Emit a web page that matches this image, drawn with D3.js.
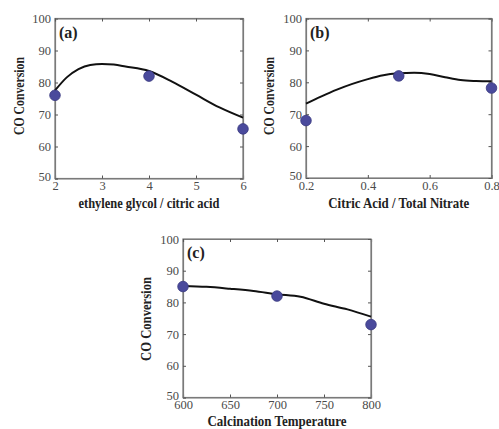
<!DOCTYPE html>
<html><head><meta charset="utf-8">
<script src="https://cdn.jsdelivr.net/npm/d3@7"></script>
<style>body{margin:0;background:#fff}svg{display:block}</style>
</head><body>
<svg id="c" width="499" height="429"></svg>
<script>
// Panel (a)
const aPointsX = [2, 4, 6];
const aPointsY = [76, 82, 65.5];
const aCurveX = [2, 2.25, 2.5, 2.75, 3, 3.25, 3.5, 4, 4.5, 5, 5.5, 6];
const aCurveY = [77.5, 81.6, 84.2, 85.5, 85.8, 85.6, 85.0, 83.6, 80.2, 76.2, 72.2, 69.0];
const aXTicks = [2, 3, 4, 5, 6];
// Panel (b)
const bPointsX = [0.2, 0.5, 0.8];
const bPointsY = [68, 82, 78.2];
const bCurveX = [0.2, 0.25, 0.3, 0.35, 0.4, 0.45, 0.5, 0.55, 0.6, 0.65, 0.7, 0.75, 0.8];
const bCurveY = [73.3, 75.6, 77.7, 79.5, 81.0, 82.2, 82.8, 83.0, 82.6, 81.6, 80.7, 80.4, 80.3];
const bXTicks = [0.2, 0.4, 0.6, 0.8];
// Panel (c)
const cPointsX = [600, 700, 800];
const cPointsY = [85, 82, 73];
const cCurveX = [600, 625, 650, 675, 700, 725, 750, 775, 800];
const cCurveY = [85.2, 84.9, 84.3, 83.6, 82.6, 81.8, 79.6, 77.8, 75.5];
const cXTicks = [600, 650, 700, 750, 800];
const yTicks = [50, 60, 70, 80, 90, 100];

const svg = d3.select("#c");
const serif = "'Liberation Serif','Times New Roman','DejaVu Serif',serif";

function panel(o){
  const x = d3.scaleLinear().domain(o.xd).range([o.l, o.r]);
  const y = d3.scaleLinear().domain([50,100]).range([o.b, o.t]);
  const g = svg.append("g");
  g.append("rect").attr("x", o.l).attr("y", o.t).attr("width", o.r-o.l).attr("height", o.b-o.t)
    .attr("fill","none").attr("stroke","#7a7a7a").attr("stroke-width",1.2);
  g.append("g").attr("transform",`translate(0,${o.b})`)
    .call(d3.axisBottom(x).tickValues(o.xt).tickSize(-3).tickPadding(3).tickFormat(o.fmt));
  g.append("g").attr("transform",`translate(${o.l},0)`)
    .call(d3.axisLeft(y).tickValues(yTicks).tickSize(-3).tickPadding(4));
  g.append("g").attr("transform",`translate(0,${o.t})`)
    .call(d3.axisTop(x).tickValues(o.xt).tickSize(-3).tickFormat(""));
  g.append("g").attr("transform",`translate(${o.r},0)`)
    .call(d3.axisRight(y).tickValues(yTicks).tickSize(-3).tickFormat(""));
  g.selectAll(".domain").attr("stroke","#7a7a7a").attr("stroke-width",1.2);
  g.selectAll(".tick line").attr("stroke","#555");
  g.selectAll(".tick text").attr("font-family",serif).attr("font-size",12.5).attr("fill","#4a4a4a");
  // nudge the lowest y label up a little, as in the reference
  g.selectAll(".tick text").filter(d=>d===50).attr("dy","0.15em");
  const pts = o.cx.map((v,i)=>[v,o.cy[i]]);
  g.append("path").datum(pts)
    .attr("d", d3.line().x(d=>x(d[0])).y(d=>y(d[1])).curve(d3.curveMonotoneX))
    .attr("fill","none").attr("stroke","#111").attr("stroke-width",2);
  g.selectAll("circle.p").data(o.px.map((v,i)=>[v,o.py[i]])).join("circle")
    .attr("cx",d=>x(d[0])).attr("cy",d=>y(d[1])).attr("r",5.3)
    .attr("fill","#4a4a9c").attr("stroke","#3a3a80").attr("stroke-width",0.8);
  g.append("text").attr("x",o.l+4).attr("y",o.t+19).text(o.tag)
    .attr("font-family",serif).attr("font-weight","bold").attr("font-size",16).attr("fill","#222");
  g.append("text").attr("x",(o.l+o.r)/2).attr("y",o.xly).attr("text-anchor","middle")
    .text(o.xl).attr("font-family",serif).attr("font-weight","bold").attr("font-size",14)
    .attr("fill","#222").attr("textLength",o.xlw).attr("lengthAdjust","spacingAndGlyphs");
  g.append("text").attr("transform",`translate(${o.ylx},${o.yly}) rotate(-90)`)
    .attr("text-anchor","middle").text("CO Conversion")
    .attr("font-family",serif).attr("font-weight","bold").attr("font-size",14)
    .attr("fill","#222").attr("textLength",o.ylw).attr("lengthAdjust","spacingAndGlyphs");
}

panel({xd:[2,6], l:55, r:243, t:18.5, b:178.5, xt:aXTicks, fmt:d3.format("d"),
  px:aPointsX, py:aPointsY, cx:aCurveX, cy:aCurveY, tag:"(a)",
  xl:"ethylene glycol / citric acid", xly:208, xlw:141, ylx:24, yly:96, ylw:78});
panel({xd:[0.2,0.8], l:306, r:491.5, t:18.5, b:178, xt:bXTicks, fmt:d3.format(".1f"),
  px:bPointsX, py:bPointsY, cx:bCurveX, cy:bCurveY, tag:"(b)",
  xl:"Citric Acid / Total Nitrate", xly:208, xlw:141, ylx:274, yly:96, ylw:78});
panel({xd:[600,800], l:183, r:371, t:239, b:397.5, xt:cXTicks, fmt:d3.format("d"),
  px:cPointsX, py:cPointsY, cx:cCurveX, cy:cCurveY, tag:"(c)",
  xl:"Calcination Temperature", xly:426, xlw:139, ylx:151, yly:319, ylw:84});
</script>
</body></html>
